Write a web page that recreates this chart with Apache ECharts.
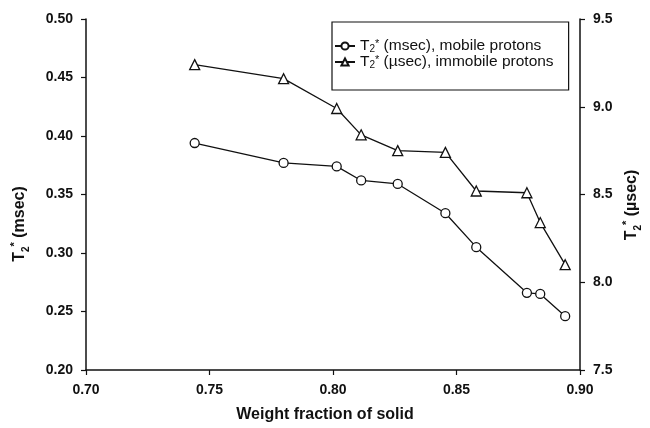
<!DOCTYPE html>
<html>
<head>
<meta charset="utf-8">
<script src="https://cdn.jsdelivr.net/npm/echarts@6/dist/echarts.min.js"></script>
<style>
  html, body { margin: 0; padding: 0; background: #fff; }
  #chart { width: 650px; height: 428px; }
</style>
</head>
<body>
<div id="chart"></div>
<script>
// Weight fraction of solid (x) for each sample
const weightFraction = [0.744, 0.780, 0.8015, 0.8114, 0.8262, 0.8455, 0.858, 0.8785, 0.8839, 0.894];
// T2* of mobile protons, msec (left axis)
const mobileT2 = [0.394, 0.377, 0.374, 0.362, 0.359, 0.334, 0.305, 0.266, 0.265, 0.246];
// T2* of immobile protons, usec (right axis)
const immobileT2 = [9.24, 9.16, 8.99, 8.84, 8.75, 8.74, 8.52, 8.51, 8.34, 8.10];

const xTicks = { min: 0.70, max: 0.90, step: 0.05 };
const leftTicks = { min: 0.20, max: 0.50, step: 0.05 };
const rightTicks = { min: 7.5, max: 9.5, step: 0.5 };

const FONT = '"Liberation Sans", Arial, Helvetica, sans-serif';
const INK = '#111';

// T with subscript 2 and superscript star, as rich-text styles
const richT2 = (size, weight, lh) => ({
  t: { fontSize: size, fontWeight: weight, fontFamily: FONT, color: INK, lineHeight: lh, verticalAlign: 'middle' },
  sub: { fontSize: Math.round(size * 0.62), fontWeight: weight, fontFamily: FONT, color: INK, lineHeight: lh, verticalAlign: 'bottom' },
  sup: { fontSize: Math.round(size * 0.7), fontWeight: weight, fontFamily: FONT, color: INK, lineHeight: lh, verticalAlign: 'top' }
});

const legendLabels = {
  mobile: '{t|T}{sub|2}{sup|*}{t| (msec), mobile protons}',
  immobile: '{t|T}{sub|2}{sup|*}{t| (\u00b5sec), immobile protons}'
};

const chart = echarts.init(document.getElementById('chart'), null, { renderer: 'canvas' });

const axisCommon = {
  type: 'value',
  axisLine: { show: true, lineStyle: { color: INK, width: 1.5 } },
  axisTick: { show: true, inside: false, length: 5, lineStyle: { color: INK, width: 1.2 } },
  splitLine: { show: false },
  axisLabel: { color: INK, fontFamily: FONT, fontSize: 14, fontWeight: 'bold', margin: 13 }
};

chart.setOption({
  animation: false,
  backgroundColor: '#fff',
  grid: { left: 86, right: 70, top: 19, bottom: 58, containLabel: false },
  xAxis: Object.assign({}, axisCommon, {
    min: xTicks.min, max: xTicks.max, interval: xTicks.step,
    axisLabel: Object.assign({}, axisCommon.axisLabel, { formatter: v => v.toFixed(2) })
  }),
  yAxis: [
    Object.assign({}, axisCommon, {
      position: 'left',
      min: leftTicks.min, max: leftTicks.max, interval: leftTicks.step,
      axisLabel: Object.assign({}, axisCommon.axisLabel, { formatter: v => v.toFixed(2) })
    }),
    Object.assign({}, axisCommon, {
      position: 'right',
      min: rightTicks.min, max: rightTicks.max, interval: rightTicks.step,
      axisLabel: Object.assign({}, axisCommon.axisLabel, { formatter: v => v.toFixed(1) })
    })
  ],
  legend: {
    orient: 'vertical',
    left: 332, top: 22,
    padding: [16, 15, 20, 2],
    itemGap: 0,
    itemWidth: 20, itemHeight: 9,
    borderColor: INK, borderWidth: 1.2,
    backgroundColor: '#fff',
    data: ['mobile', 'immobile'],
    formatter: name => legendLabels[name],
    textStyle: { color: INK, fontFamily: FONT, fontSize: 15.5, lineHeight: 16, rich: richT2(15.5, 'normal', 16) }
  },
  series: [
    {
      name: 'mobile',
      type: 'line',
      yAxisIndex: 0,
      data: weightFraction.map((x, i) => [x, mobileT2[i]]),
      symbol: 'circle', symbolSize: 9,
      lineStyle: { color: INK, width: 1.3 },
      itemStyle: { color: '#fff', borderColor: INK, borderWidth: 1.3 }
    },
    {
      name: 'immobile',
      type: 'line',
      yAxisIndex: 1,
      data: weightFraction.map((x, i) => [x, immobileT2[i]]),
      symbol: 'triangle', symbolSize: 10,
      lineStyle: { color: INK, width: 1.3 },
      itemStyle: { color: '#fff', borderColor: INK, borderWidth: 1.3 }
    }
  ],
  graphic: [
    {
      type: 'text', left: 'center', top: 407,
      style: { text: 'Weight fraction of solid', font: 'bold 16px ' + FONT, fill: INK }
    },
    {
      type: 'text', x: 20, y: 224, rotation: Math.PI / 2,
      style: {
        text: '{t|T}{sub|2}{sup|*}{t| (msec)}', rich: richT2(16, 'bold', 22),
        align: 'center', verticalAlign: 'middle', fill: INK
      }
    },
    {
      type: 'text', x: 632, y: 205, rotation: Math.PI / 2,
      style: {
        text: '{t|T}{sub|2}{sup|*}{t| (\u00b5sec)}', rich: richT2(16, 'bold', 22),
        align: 'center', verticalAlign: 'middle', fill: INK
      }
    }
  ]
});
</script>
</body>
</html>
